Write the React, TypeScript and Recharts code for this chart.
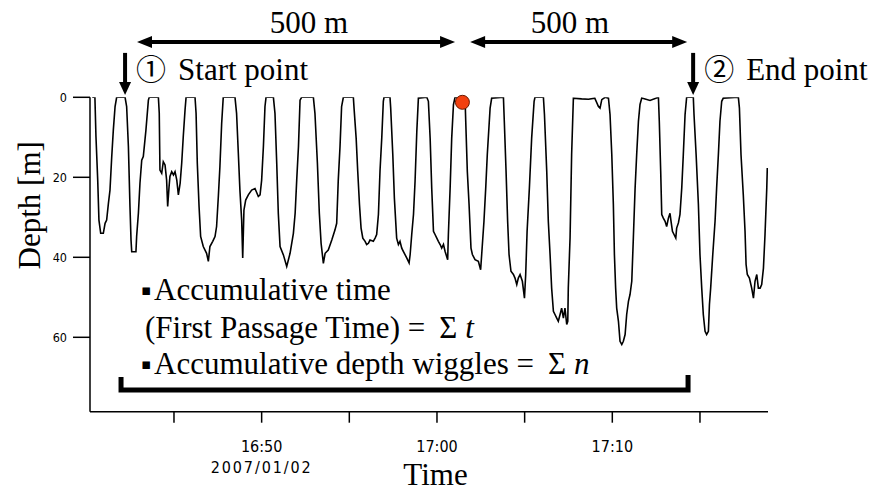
import React from 'react';
import { LineChart, Line, XAxis, YAxis, ReferenceLine, ReferenceDot } from 'recharts';

// time in minutes after 16:00 (2007/01/02), one row per dive
const timeMin = [
  [40.34, 40.49, 40.55, 40.65, 40.72, 40.82, 40.97, 41.07, 41.16, 41.26, 41.35, 41.45, 41.54, 41.64, 41.73, 42.21],
  [42.3, 42.4, 42.49, 42.55, 42.59, 42.83, 42.87, 42.97, 43.06, 43.16, 43.25, 43.4, 43.54, 43.59, 44.11],
  [44.16, 44.2, 44.3, 44.39, 44.49, 44.58, 44.64, 44.72, 44.77, 44.87, 44.97, 45.06, 45.16, 45.25, 45.35, 45.44, 45.53, 45.63, 45.69, 46.2],
  [46.26, 46.33, 46.43, 46.52, 46.67, 46.86, 46.96, 47.05, 47.21, 47.34, 47.43, 47.53, 47.62, 47.72, 47.81, 48.48],
  [48.57, 48.67, 48.76, 48.86, 48.92, 48.99, 49.09, 49.24, 49.43, 49.62, 49.81, 49.91, 50.0, 50.1, 50.19, 50.25, 50.67],
  [50.76, 50.86, 50.95, 51.05, 51.24, 51.43, 51.62, 51.81, 51.91, 52.0, 52.1, 52.19, 52.28, 52.95],
  [53.04, 53.18, 53.29, 53.39, 53.52, 53.62, 53.8, 54.0, 54.18, 54.28, 54.37, 54.47, 54.56, 54.66, 55.23],
  [55.27, 55.39, 55.48, 55.58, 55.67, 55.77, 55.9, 55.99, 56.09, 56.18, 56.37, 56.47, 56.56, 56.66, 56.75, 56.85, 56.94, 56.98, 57.32],
  [57.36, 57.48, 57.57, 57.7, 57.8, 57.89, 57.99, 58.08, 58.28, 58.41, 58.47, 58.56, 58.66, 58.75, 58.85, 58.94, 59.42],
  [59.51, 59.61, 59.7, 59.8, 59.89, 59.99, 60.08, 60.18, 60.27, 60.37, 60.46, 60.61, 60.65, 60.75, 60.84, 60.94, 61.03, 61.6],
  [61.64, 61.73, 61.83, 61.94, 62.02, 62.17, 62.36, 62.49, 62.55, 62.68, 62.78, 62.87, 63.03, 63.12, 63.79],
  [63.84, 63.94, 64.03, 64.11, 64.22, 64.36, 64.45, 64.55, 64.64, 64.74, 64.87, 64.99, 65.06, 65.14, 65.27, 65.4, 65.54, 65.59, 66.07],
  [66.13, 66.26, 66.35, 66.45, 66.54, 66.64, 66.73, 66.83, 66.92, 67.02, 67.11, 67.21, 67.3, 67.4, 67.46, 67.49, 67.59, 67.68, 67.78, 68.25, 68.64, 69.0, 69.21, 69.3, 69.4, 69.59, 69.78],
  [69.87, 69.97, 70.06, 70.12, 70.19, 70.25, 70.35, 70.44, 70.54, 70.63, 70.73, 70.82, 70.92, 71.01, 71.11, 71.2, 71.3, 71.39, 71.49, 71.58, 71.68, 72.15, 72.63],
  [72.68, 72.76, 72.82, 72.91, 73.01, 73.1, 73.2, 73.29, 73.35, 73.43, 73.52, 73.62, 73.67, 73.77, 73.86, 73.96, 74.05, 74.15, 74.24, 74.62],
  [74.66, 74.78, 74.91, 75.0, 75.1, 75.19, 75.29, 75.38, 75.48, 75.54, 75.61, 75.73, 75.86, 75.95, 76.05, 76.14, 76.24, 76.33, 77.19],
  [77.25, 77.34, 77.47, 77.57, 77.63, 77.7, 77.82, 77.95, 78.05, 78.14, 78.24, 78.33, 78.43, 78.52, 78.62, 78.71, 78.81, 78.84],
];

// depth in metres, same layout as timeMin
const depthM = [
  [0, 0, 9.8, 20.7, 30.7, 34, 34, 31.5, 30.7, 26.5, 23.2, 14.8, 8.2, 2.3, 0, 0],
  [2.3, 12.3, 27.3, 35.7, 38.6, 38.6, 34.8, 29, 21.5, 15.7, 14.8, 8.2, 0.7, 0, 0],
  [4, 18.2, 19, 16.1, 16.9, 20.7, 27.3, 22.3, 19.8, 18.6, 19.4, 18.6, 20.7, 24.4, 21.5, 16.5, 9.8, 3.2, 0, 0],
  [4, 16.5, 27.3, 34.8, 37.3, 39, 41, 37.3, 36, 34.8, 32.3, 24.8, 17.3, 6.5, 0, 0],
  [4, 14, 23.2, 30.7, 40.2, 28.2, 25.7, 24.4, 23.2, 22.8, 24.8, 24.4, 20.7, 12.3, 2.3, 0, 0],
  [4, 16.5, 29, 37.3, 39.4, 42.3, 39, 34, 29, 20.7, 12.3, 0.7, 0, 0],
  [4, 16.5, 29, 36.5, 41.5, 39, 38.2, 35.7, 33.2, 31.5, 20.7, 12.3, 2.3, 0, 0],
  [2.7, 10.2, 18.5, 26.8, 32.7, 35.2, 36, 36.8, 36.5, 35.7, 36, 35.2, 34.3, 29.3, 18.5, 10.2, 1, 0, 0],
  [2.7, 14.3, 25.2, 35.2, 36.8, 36, 37.7, 38.5, 40.2, 41.4, 39.3, 34.3, 29.3, 21, 8.5, 0.2, 0],
  [1, 10.2, 22.7, 33.5, 34.3, 35.2, 36, 36.8, 37.7, 36.8, 38.5, 40.6, 34.3, 22.7, 10.2, 1.8, 0, 0],
  [6, 18.5, 26.8, 37.7, 39.3, 40.6, 41, 43.1, 39.3, 31, 22.7, 14.3, 2.7, 0.2, 0],
  [6, 18.5, 31, 39.3, 43.5, 44.3, 45.2, 46.8, 45.2, 44.3, 46, 50.2, 44.3, 33.5, 22.7, 10.2, 1, 0, 0],
  [4.3, 18.5, 31, 39.3, 47.7, 53.5, 54.3, 55.2, 56, 54.3, 52.7, 55.2, 52.7, 56.8, 56, 47.7, 35.2, 14.3, 0.2, 0.4, 0.5, 0.2, 2.3, 2.7, 0.6, 0, 0.2],
  [4.3, 14.3, 26.8, 39.3, 47.7, 52.7, 56, 61, 61.8, 61, 59.3, 54.3, 51, 49.3, 46, 35.2, 22.7, 14.3, 6, 1.8, 0.2, 0.8, 0],
  [6, 18.5, 29.3, 30.2, 31, 32.3, 30.2, 29, 31, 33.5, 34.3, 35.2, 32.7, 31.4, 29.3, 22.7, 14.3, 4.3, 0, 0],
  [4.3, 14.3, 26.8, 39.3, 47.7, 54.3, 58.5, 59.3, 58.5, 51.8, 47.7, 39.3, 31, 22.7, 14.3, 6, 1, 0.2, 0],
  [2.7, 14.3, 24.3, 33.5, 41.8, 44.3, 45.2, 47.7, 50.2, 46, 44.3, 47.7, 47.7, 46.8, 42.7, 34.3, 22.7, 17.7],
];

const xTicks = [45, 50, 55, 60, 65, 70, 75];
const xTickLabels: Record<number, string[]> = {
  50: ['16:50', '2007/01/02'],
  60: ['17:00'],
  70: ['17:10'],
};
const yTicks = [0, 20, 40, 60];

// annotations, in chart units (minutes, metres)
const spans = [
  { from: 42.89, to: 61.03, labelAt: 52.7, label: '500 m' },
  { from: 61.89, to: 74.27, labelAt: 67.59, label: '500 m' },
];
const marks = [
  { t: 42.21, num: '①', label: 'Start point' },
  { t: 74.61, num: '②', label: 'End point' },
];
const passage = { t: 61.45, depth: 1.25 };
const bracket = { from: 41.98, to: 74.32, depth: 73.2 };

const data = timeMin.flatMap((row, i) => row.map((t, j) => ({ t, depth: depthM[i][j] })));

const serif = '"Liberation Serif", "Times New Roman", serif';
const sans = '"DejaVu Sans Condensed", "DejaVu Sans", sans-serif';

const TimeTick = ({ x, y, payload }: any) => {
  const lines = xTickLabels[payload.value];
  if (!lines) return <g />;
  return (
    <g>
      {lines.map((s, i) => (
        <text
          key={s}
          x={x}
          y={y + 29 + i * 21.6}
          textAnchor="middle"
          fontSize={16}
          fontFamily={sans}
          letterSpacing={i === 1 ? 1.9 : 0}
          fill="#000"
        >
          {s}
        </text>
      ))}
    </g>
  );
};

const DoubleArrow = ({ x1, y1, x2, span }: any) => {
  const h = 15;
  const w = 6;
  const lx = x1 + ((x2 - x1) * (span.labelAt - span.from)) / (span.to - span.from);
  return (
    <g>
      <line x1={x1 + h - 1} y1={y1} x2={x2 - h + 1} y2={y1} stroke="#000" strokeWidth={4} />
      <polygon points={`${x1},${y1} ${x1 + h},${y1 - w} ${x1 + h},${y1 + w}`} fill="#000" />
      <polygon points={`${x2},${y1} ${x2 - h},${y1 - w} ${x2 - h},${y1 + w}`} fill="#000" />
      <text x={lx} y={y1 - 9} textAnchor="middle" fontSize={31} fontFamily={serif} fill="#000">
        {span.label}
      </text>
    </g>
  );
};

const DownArrow = ({ x1, y1, y2, mark }: any) => (
  <g>
    <line x1={x1} y1={y1} x2={x1} y2={y2 - 11} stroke="#000" strokeWidth={4} />
    <polygon points={`${x1},${y2} ${x1 - 6},${y2 - 13} ${x1 + 6},${y2 - 13}`} fill="#000" />
    <text x={x1 + 11} y={y2 - 15} fontSize={30} fontFamily='"Noto Sans CJK JP", sans-serif' fill="#000">
      {mark.num}
    </text>
    <text x={x1 + 53} y={y2 - 15} fontSize={31} fontFamily={serif} fill="#000">
      {mark.label}
    </text>
  </g>
);

const Bracket = ({ x1, y1, x2 }: any) => {
  const tx = x1 + 33;
  return (
    <g>
      <path d={`M${x1},${y1 - 13} V${y1} H${x2} V${y1 - 15}`} fill="none" stroke="#000" strokeWidth={5} />
      <g fontFamily={serif} fontSize={31} fill="#000">
        <text x={x1 + 20} y={y1 - 95} fontSize={15} fontFamily="DejaVu Sans">▪</text>
        <text x={tx} y={y1 - 90}>Accumulative time</text>
        <text x={x1 + 24} y={y1 - 52}>
          <tspan>(First Passage Time) =</tspan>
          <tspan dx={14}>Σ</tspan>
          <tspan dx={8} fontStyle="italic">t</tspan>
        </text>
        <text x={x1 + 20} y={y1 - 21} fontSize={15} fontFamily="DejaVu Sans">▪</text>
        <text x={tx} y={y1 - 16}>
          <tspan>Accumulative depth wiggles =</tspan>
          <tspan dx={14}>Σ</tspan>
          <tspan dx={8} fontStyle="italic">n</tspan>
        </text>
      </g>
    </g>
  );
};

export default function App() {
  return (
    <div style={{ position: 'absolute', left: 0, top: 0, width: 875, height: 493, background: '#fff' }}>
      <LineChart width={875} height={493} data={data} margin={{ top: 97.3, right: 107, bottom: 21.3, left: 0 }}>
        <XAxis
          dataKey="t"
          type="number"
          domain={[40.21, 78.88]}
          ticks={xTicks}
          interval={0}
          allowDataOverflow
          height={60}
          tickSize={11}
          tickMargin={0}
          tick={<TimeTick />}
          axisLine={{ stroke: '#000', strokeWidth: 1.5 }}
          tickLine={{ stroke: '#000', strokeWidth: 1.5 }}
          label={(p: any) => {
            const vb = p.viewBox || { x: 90, y: 411.7 };
            return (
              <text x={vb.x + 345.5} y={vb.y + 73.5} textAnchor="middle" fontSize={31} fontFamily={serif} fill="#000">
                Time
              </text>
            );
          }}
        />
        <YAxis
          type="number"
          reversed
          domain={[0, 78.6]}
          ticks={yTicks}
          interval={0}
          allowDataOverflow
          width={90}
          tickSize={17}
          tickMargin={6}
          tick={{ fill: '#000', fontSize: 12.5, fontFamily: sans }}
          axisLine={{ stroke: '#000', strokeWidth: 1.5 }}
          tickLine={{ stroke: '#000', strokeWidth: 1.5 }}
          label={(p: any) => {
            const vb = p.viewBox || { x: 0, y: 97.3 };
            const cx = vb.x + 30;
            const cy = vb.y + 108;
            return (
              <text
                x={cx}
                y={cy}
                transform={`rotate(-90 ${cx} ${cy})`}
                textAnchor="middle"
                dominantBaseline="central"
                fontSize={31}
                fontFamily={serif}
                fill="#000"
              >
                Depth [m]
              </text>
            );
          }}
        />
        <Line
          dataKey="depth"
          type="linear"
          stroke="#000"
          strokeWidth={1.6}
          dot={false}
          activeDot={false}
          isAnimationActive={false}
        />
        {spans.map((s, i) => (
          <ReferenceLine
            key={'span' + i}
            ifOverflow="visible"
            segment={[
              { x: s.from, y: -13.8 },
              { x: s.to, y: -13.8 },
            ]}
            shape={(p: any) => <DoubleArrow {...p} span={s} />}
          />
        ))}
        {marks.map((m, i) => (
          <ReferenceLine
            key={'mark' + i}
            ifOverflow="visible"
            segment={[
              { x: m.t, y: -11.1 },
              { x: m.t, y: -0.6 },
            ]}
            shape={(p: any) => <DownArrow {...p} mark={m} />}
          />
        ))}
        <ReferenceLine
          ifOverflow="visible"
          segment={[
            { x: bracket.from, y: bracket.depth },
            { x: bracket.to, y: bracket.depth },
          ]}
          shape={(p: any) => <Bracket {...p} />}
        />
        <ReferenceDot
          x={passage.t}
          y={passage.depth}
          r={7}
          ifOverflow="visible"
          fill="#f2400f"
          stroke="#6a1a00"
          strokeWidth={1}
        />
      </LineChart>
    </div>
  );
}
